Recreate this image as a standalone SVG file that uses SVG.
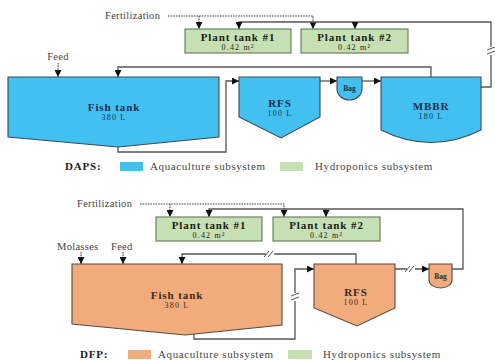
<svg xmlns="http://www.w3.org/2000/svg" xmlns:xlink="http://www.w3.org/1999/xlink" width="495" height="360" viewBox="0 0 495 360">
<style>
text{font-family:"Liberation Serif","Times New Roman",serif;}
.t{font-size:11px;font-weight:bold;text-anchor:middle;letter-spacing:0.9px;}
.s{font-size:8px;text-anchor:middle;letter-spacing:1.2px;}
.lbl{font-size:10.5px;fill:#444;letter-spacing:0.3px;}
.leg{font-size:11px;fill:#444;letter-spacing:0.6px;}
.legh{font-size:11px;font-weight:bold;fill:#222;letter-spacing:0.8px;}
.blue{fill:#42c1f1;stroke:#3a4a5a;stroke-width:1.1;}
.orange{fill:#f1ab7c;stroke:#5a4a40;stroke-width:1.1;}
.green{fill:#c6e0b4;stroke:#5f7a52;stroke-width:1.1;}
.bt{fill:#1c2d4e;}
.ot{fill:#3a2a22;}
.gt{fill:#1a1a1a;}
.flow{fill:none;stroke:#555;stroke-width:1.3;}
.dash{fill:none;stroke:#444;stroke-width:1.1;stroke-dasharray:1.6,1;}
.brk{stroke:#555;stroke-width:1;fill:none;}
</style>
<defs>
<marker id="ah" markerWidth="7" markerHeight="7" refX="7" refY="3.5" orient="auto" markerUnits="userSpaceOnUse">
<path d="M0,0 L7,3.5 L0,7 z" fill="#111"/>
</marker>
<g id="brkH">
<rect x="-4" y="-3" width="8" height="6" fill="#fff"/>
<line class="brk" x1="-6" y1="3" x2="-1" y2="-3"/>
<line class="brk" x1="-2" y1="3" x2="3" y2="-3"/>
</g>
<g id="brkV">
<rect x="-3" y="-4" width="6" height="8" fill="#fff"/>
<line class="brk" x1="-4" y1="-1" x2="4" y2="-4"/>
<line class="brk" x1="-4" y1="3" x2="4" y2="0"/>
</g>
</defs>

<!-- ===== DAPS (top) ===== -->
<g id="connectors-top">
<path class="dash" d="M168,16 H313 V29" marker-end="url(#ah)"/>
<path class="dash" d="M199,16 V29" marker-end="url(#ah)"/>
<path class="dash" d="M58,63 V77" marker-end="url(#ah)"/>
<path class="flow" d="M481,87 H491 V22 H239 V29" marker-end="url(#ah)"/>
<path class="flow" d="M355,22 V29" marker-end="url(#ah)"/>
<use xlink:href="#brkV" x="491" y="51"/>
<path class="flow" d="M431,77 V67 H118 V77" marker-end="url(#ah)"/>
<path class="flow" d="M118,147 V152 H226 V81 H239" marker-end="url(#ah)"/>
<path class="flow" d="M320,81 H337" marker-end="url(#ah)"/>
<path class="flow" d="M362,81 H381" marker-end="url(#ah)"/>
</g>

<text class="lbl" x="105" y="19">Fertilization</text>
<text class="lbl" x="58" y="60" text-anchor="middle">Feed</text>

<g id="plant1-top">
<rect class="green" x="185" y="29" width="106" height="24"/>
<text class="t gt" x="238" y="41">Plant tank #1</text>
<text class="s gt" x="238" y="49.5">0.42 m²</text>
</g>
<g id="plant2-top">
<rect class="green" x="301" y="29" width="107" height="24"/>
<text class="t gt" x="354.5" y="41">Plant tank #2</text>
<text class="s gt" x="354.5" y="49.5">0.42 m²</text>
</g>
<g id="fishtank-top">
<polygon class="blue" points="8,77 219,77 219,137 118,147 8,137"/>
<text class="t bt" x="114" y="111">Fish tank</text>
<text class="s bt" x="114" y="120">380 L</text>
</g>
<g id="rfs-top">
<polygon class="blue" points="239,77 320,77 320,117 281,138 239,117"/>
<text class="t bt" x="280" y="107">RFS</text>
<text class="s bt" x="280" y="116">100 L</text>
</g>
<g id="bag-top">
<path class="blue" d="M337,77 H362 V89 A12.5,11 0 0 1 337,89 Z"/>
<text class="bt" x="349.5" y="91" font-size="7.5" font-weight="bold" text-anchor="middle">Bag</text>
</g>
<g id="mbbr-top">
<path class="blue" d="M381,77 H481 V130 Q431,155 381,130 Z"/>
<text class="t bt" x="431" y="110">MBBR</text>
<text class="s bt" x="431" y="119">180 L</text>
</g>
<g id="legend-top">
<text class="legh" x="65" y="170">DAPS:</text>
<rect x="120" y="162" width="23" height="9" fill="#42c1f1"/>
<text class="leg" x="150" y="170">Aquaculture subsystem</text>
<rect x="280" y="162" width="23" height="9" fill="#c6e0b4"/>
<text class="leg" x="315" y="170">Hydroponics subsystem</text>
</g>

<!-- ===== DFP (bottom) ===== -->
<g id="connectors-bottom">
<path class="dash" d="M140,204 H284 V217" marker-end="url(#ah)"/>
<path class="dash" d="M170,204 V217" marker-end="url(#ah)"/>
<path class="dash" d="M81,252 V264" marker-end="url(#ah)"/>
<path class="dash" d="M123,252 V264" marker-end="url(#ah)"/>
<path class="flow" d="M452,269 H463 V209 H209 V217" marker-end="url(#ah)"/>
<path class="flow" d="M326,209 V217" marker-end="url(#ah)"/>
<path class="flow" d="M356,264 V254 H182 V264" marker-end="url(#ah)"/>
<use xlink:href="#brkH" x="270" y="254"/>
<path class="flow" d="M194,334 V339 H295 V269 H314" marker-end="url(#ah)"/>
<use xlink:href="#brkV" x="295" y="297"/>
<path class="flow" d="M395,269 H429" marker-end="url(#ah)"/>
<use xlink:href="#brkH" x="411" y="269"/>
</g>

<text class="lbl" x="77" y="207">Fertilization</text>
<text class="lbl" x="57" y="250">Molasses</text>
<text class="lbl" x="111" y="250">Feed</text>

<g id="plant1-bottom">
<rect class="green" x="156" y="217" width="106" height="24"/>
<text class="t gt" x="209" y="229">Plant tank #1</text>
<text class="s gt" x="209" y="237.5">0.42 m²</text>
</g>
<g id="plant2-bottom">
<rect class="green" x="273" y="217" width="107" height="24"/>
<text class="t gt" x="326.5" y="229">Plant tank #2</text>
<text class="s gt" x="326.5" y="237.5">0.42 m²</text>
</g>
<g id="fishtank-bottom">
<polygon class="orange" points="72,264 282,264 282,325 185,335 72,324"/>
<text class="t ot" x="177" y="299">Fish tank</text>
<text class="s ot" x="177" y="308">380 L</text>
</g>
<g id="rfs-bottom">
<polygon class="orange" points="314,264 395,264 395,308 357,326 314,308"/>
<text class="t ot" x="356" y="296">RFS</text>
<text class="s ot" x="356" y="305">100 L</text>
</g>
<g id="bag-bottom">
<path class="orange" d="M429,264 H452 V280 A11.5,8 0 0 1 429,280 Z"/>
<text class="ot" x="440.5" y="279" font-size="7.5" font-weight="bold" text-anchor="middle">Bag</text>
</g>
<g id="legend-bottom">
<text class="legh" x="80" y="358">DFP:</text>
<rect x="128" y="350" width="23" height="9" fill="#f1ab7c"/>
<text class="leg" x="158" y="358">Aquaculture subsystem</text>
<rect x="288" y="350" width="24" height="9" fill="#c6e0b4"/>
<text class="leg" x="323" y="358">Hydroponics subsystem</text>
</g>
</svg>
